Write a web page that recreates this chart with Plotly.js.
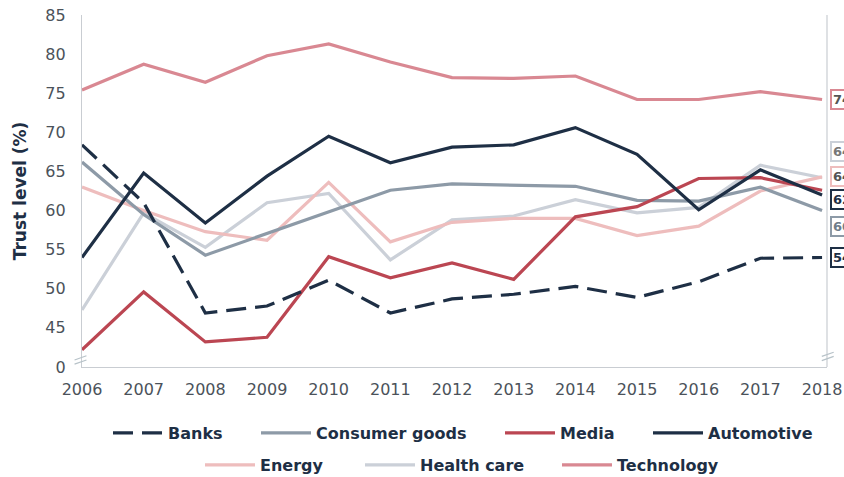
<!DOCTYPE html>
<html>
<head>
<meta charset="utf-8">
<script src="https://cdn.plot.ly/plotly-3.0.1.min.js"></script>
<style>
  html, body { margin: 0; padding: 0; background: #ffffff; }
  #chart { width: 844px; height: 477px; }
</style>
</head>
<body>
<div id="chart"></div>
<script>
const years = [2006, 2007, 2008, 2009, 2010, 2011, 2012, 2013, 2014, 2015, 2016, 2017, 2018];

const banks        = [68.4, 61.0, 46.9, 47.8, 51.1, 46.9, 48.7, 49.3, 50.3, 48.9, 50.9, 53.9, 54.0];
const consumerGoods= [66.2, 59.5, 54.3, 57.1, 59.8, 62.6, 63.4, 63.3, 63.1, 61.3, 61.2, 63.0, 60.0];
const media        = [42.2, 49.6, 43.2, 43.8, 54.1, 51.4, 53.3, 51.2, 59.2, 60.5, 64.1, 64.2, 62.6];
const automotive   = [54.0, 64.8, 58.4, 64.4, 69.5, 66.1, 68.1, 68.4, 70.6, 67.2, 60.1, 65.2, 62.0];
const energy       = [63.0, 60.0, 57.3, 56.2, 63.6, 56.0, 58.5, 59.0, 59.0, 56.8, 58.0, 62.5, 64.3];
const healthCare   = [47.3, 59.7, 55.3, 61.0, 62.2, 53.7, 58.8, 59.3, 61.4, 59.7, 60.4, 65.8, 64.2];
const technology   = [75.4, 78.7, 76.4, 79.8, 81.3, 79.0, 77.0, 76.9, 77.2, 74.2, 74.2, 75.2, 74.2];

const yTickVals  = [40, 45, 50, 55, 60, 65, 70, 75, 80, 85];
const yTickText  = ["0", "45", "50", "55", "60", "65", "70", "75", "80", "85"];

const NAVY = "#1e2f45";
const series = [
  {name: "Banks",          y: banks,         color: NAVY,      dash: true,  lblShift: 0,    lblText: "#1e2f45"},
  {name: "Consumer goods", y: consumerGoods, color: "#8d9aa7", dash: false, lblShift: -16,  lblText: "#6f7d8a"},
  {name: "Media",          y: media,         color: "#bb4652", dash: false, lblShift: null},
  {name: "Automotive",     y: automotive,    color: NAVY,      dash: false, lblShift: -5,   lblText: "#1e2f45"},
  {name: "Energy",         y: energy,        color: "#eebdbd", dash: false, lblShift: 0,    lblText: "#555"},
  {name: "Health care",    y: healthCare,    color: "#cbd0d8", dash: false, lblShift: 26,   lblText: "#777"},
  {name: "Technology",     y: technology,    color: "#d98892", dash: false, lblShift: 0,    lblText: "#555"}
];

// legend entry placement (box left edge in px, row)
const legendPos = [
  {px: 108, row: 0}, {px: 256, row: 0}, {px: 500, row: 0}, {px: 648, row: 0},
  {px: 200, row: 1}, {px: 360, row: 1}, {px: 557, row: 1}
];

const plotL = 82, plotW = 745, plotT = 15, plotH = 352;
const legendFont = {family: "DejaVu Sans", size: 16, color: NAVY, weight: "bold"};

const traces = series.map((s, i) => ({
  type: "scatter",
  mode: "lines",
  x: years,
  y: s.y,
  name: s.name,
  legend: i === 0 ? "legend" : "legend" + (i + 1),
  line: {color: s.color, width: 3.2, dash: s.dash ? "20px,9px" : "solid"},
  hoverinfo: "skip"
}));

// draw order: light lines beneath dark ones
const order = ["Technology", "Health care", "Energy", "Consumer goods", "Media", "Banks", "Automotive"];
traces.sort((a, b) => order.indexOf(a.name) - order.indexOf(b.name));

const annotations = series.filter(s => s.lblShift !== null).map(s => ({
  xref: "paper", yref: "y",
  x: 1, y: s.y[s.y.length - 1],
  xanchor: "left", yanchor: "middle",
  xshift: 3, yshift: s.lblShift,
  text: String(Math.round(s.y[s.y.length - 1])),
  showarrow: false,
  font: {family: "DejaVu Sans", size: 13, color: s.lblText, weight: "bold"},
  bordercolor: s.color, borderwidth: 2, borderpad: 1,
  bgcolor: "#ffffff"
}));

const gridGray = "#c9cdd2";
const shapes = [
  {type: "line", xref: "paper", yref: "paper", x0: 1, x1: 1, y0: 0, y1: 1, line: {color: gridGray, width: 1.2}},
  {type: "line", xref: "paper", yref: "paper", x0: -0.010, x1: 0.006, y0: 0.008, y1: 0.020, line: {color: "#b7c2c8", width: 1.2}},
  {type: "line", xref: "paper", yref: "paper", x0: -0.010, x1: 0.006, y0: 0.020, y1: 0.032, line: {color: "#b7c2c8", width: 1.2}},
  {type: "line", xref: "paper", yref: "paper", x0: 0.993, x1: 1.009, y0: 0.018, y1: 0.030, line: {color: "#b7c2c8", width: 1.2}},
  {type: "line", xref: "paper", yref: "paper", x0: 0.993, x1: 1.009, y0: 0.030, y1: 0.042, line: {color: "#b7c2c8", width: 1.2}}
];

const layout = {
  width: 844, height: 477,
  margin: {l: plotL, r: 844 - plotL - plotW, t: plotT, b: 477 - plotT - plotH, autoexpand: false},
  paper_bgcolor: "#ffffff",
  plot_bgcolor: "#ffffff",
  showlegend: true,
  xaxis: {
    range: [2006, 2018.08],
    tickvals: years,
    ticktext: years.map(String),
    showgrid: false, zeroline: false,
    showline: true, linecolor: gridGray, linewidth: 1.2,
    ticks: "",
    ticklabelstandoff: 8,
    ticklabeloverflow: "allow",
    tickfont: {family: "DejaVu Sans", size: 16, color: "#4b525a"},
    fixedrange: true
  },
  yaxis: {
    range: [40, 85],
    tickvals: yTickVals,
    ticktext: yTickText,
    showgrid: false, zeroline: false,
    showline: true, linecolor: gridGray, linewidth: 1.2,
    ticks: "",
    ticklabelstandoff: 12,
    tickfont: {family: "DejaVu Sans", size: 16, color: "#4b525a"},
    title: {text: "Trust level (%)", font: {family: "DejaVu Sans", size: 17, color: NAVY, weight: "bold"}, standoff: 14},
    fixedrange: true
  },
  annotations: annotations,
  shapes: shapes
};

const rowY = [433, 465];
legendPos.forEach((p, i) => {
  const key = i === 0 ? "legend" : "legend" + (i + 1);
  layout[key] = {
    orientation: "h",
    x: (p.px - plotL) / plotW,
    xanchor: "left",
    y: (plotT + plotH - rowY[p.row]) / plotH,
    yanchor: "middle",
    font: legendFont,
    bgcolor: "rgba(0,0,0,0)",
    itemwidth: 50
  };
});

Plotly.newPlot("chart", traces, layout, {displayModeBar: false, staticPlot: true});
</script>
</body>
</html>
